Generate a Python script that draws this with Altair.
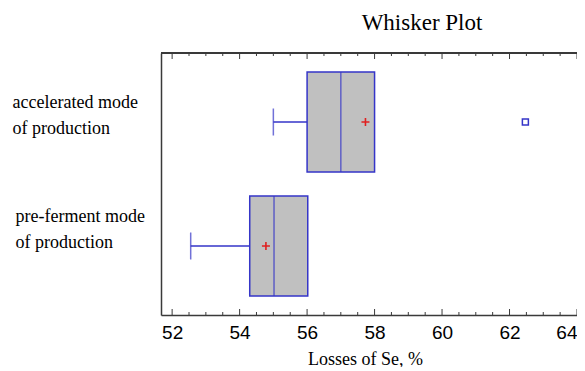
import altair as alt
import pandas as pd

groups = ["accelerated mode of production", "pre-ferment mode of production"]
whisker_low = [55.0, 52.55]
q1 = [56.0, 54.3]
median = [57.0, 55.02]
q3 = [58.0, 56.02]
mean = [57.73, 54.78]
outlier_group = ["accelerated mode of production"]
outlier_value = [62.47]
major_ticks = [52, 54, 56, 58, 60, 62, 64]
minor_ticks = [52.5, 53, 53.5, 54.5, 55, 55.5, 56.5, 57, 57.5, 58.5, 59, 59.5,
               60.5, 61, 61.5, 62.5, 63, 63.5]

W, H = 416, 262
BLUE = "#3535c8"
FRAME = "#3a3a3a"

box = pd.DataFrame({"group": groups, "low": whisker_low, "q1": q1,
                    "median": median, "q3": q3, "mean": mean})
out = pd.DataFrame({"group": outlier_group, "value": outlier_value})
maj = pd.DataFrame({"v": major_ticks})
mnr = pd.DataFrame({"v": minor_ticks})

xscale = alt.Scale(domain=[51.67, 64.0], nice=False, zero=False)
yscale = alt.Scale(domain=groups, paddingInner=0, paddingOuter=0.0565)

label_expr = ("[slice(datum.label, 0, indexof(datum.label, ' of ')), "
              "slice(datum.label, indexof(datum.label, ' of ') + 1)]")

xaxis = alt.Axis(title="Losses of Se, %", titleFont="Liberation Serif",
                 titleFontSize=18, titleFontWeight="normal", titleColor="black",
                 titleX=204, titleY=49, titleBaseline="alphabetic",
                 labelFont="Liberation Sans", labelFontSize=19, labelColor="black",
                 labelPadding=8, ticks=False, tickSize=0, grid=False,
                 labelAlign={"condition": {"test": "datum.value >= 64", "value": "right"}, "value": "center"},
                 values=major_ticks, labelFlush=False, labelOverlap=False,
                 domainColor=FRAME, domainWidth=1.5)
yaxis = alt.Axis(title=None, labelExpr=label_expr, labelFont="Liberation Serif",
                 labelFontSize=18, labelColor="black", labelAlign="left",
                 labelBaseline="middle", labelLineHeight=26, labelLimit=0,
                 labelPadding={"condition": {"test": "indexof(datum.label, 'accel') == 0", "value": 149}, "value": 146},
                 labelOffset={"condition": {"test": "indexof(datum.label, 'accel') == 0", "value": -19}, "value": -29},
                 ticks=False, tickSize=0, grid=False,
                 domainColor=FRAME, domainWidth=1.5)

base = alt.Chart(box)

whisker = base.mark_rule(color=BLUE, strokeWidth=1.5).encode(
    x=alt.X("low:Q", scale=xscale, axis=xaxis),
    x2="q1:Q",
    y=alt.Y("group:N", scale=yscale, axis=yaxis, sort=groups),
)
cap = base.mark_tick(color=BLUE, orient="vertical", size=27, thickness=1.5).encode(
    x=alt.X("low:Q", scale=xscale), y=alt.Y("group:N", scale=yscale, sort=groups))
bars = base.mark_bar(size=100, fill="#c0c0c0", stroke=BLUE, strokeWidth=1.5).encode(
    x=alt.X("q1:Q", scale=xscale), x2="q3:Q",
    y=alt.Y("group:N", scale=yscale, sort=groups))
med = base.mark_tick(color=BLUE, orient="vertical", size=100, thickness=1.5).encode(
    x=alt.X("median:Q", scale=xscale), y=alt.Y("group:N", scale=yscale, sort=groups))
mn = base.mark_point(shape="M-1,0L1,0M0,-1L0,1", filled=False, stroke="#e02020",
                     strokeWidth=1.6, size=64, opacity=1).encode(
    x=alt.X("mean:Q", scale=xscale), y=alt.Y("group:N", scale=yscale, sort=groups))
outl = alt.Chart(out).mark_point(shape="square", filled=False, color=BLUE,
                                 strokeWidth=1.5, size=36, opacity=1).encode(
    x=alt.X("value:Q", scale=xscale), y=alt.Y("group:N", scale=yscale, sort=groups))

bot_major = alt.Chart(maj).mark_rule(color=FRAME, strokeWidth=1).encode(
    x=alt.X("v:Q", scale=xscale), y=alt.value(H), y2=alt.value(H - 6))
bot_minor = alt.Chart(mnr).mark_rule(color=FRAME, strokeWidth=1).encode(
    x=alt.X("v:Q", scale=xscale), y=alt.value(H), y2=alt.value(H - 3))
top_major = alt.Chart(maj).mark_rule(color=FRAME, strokeWidth=1).encode(
    x=alt.X("v:Q", scale=xscale), y=alt.value(0), y2=alt.value(6))
top_minor = alt.Chart(mnr).mark_rule(color=FRAME, strokeWidth=1).encode(
    x=alt.X("v:Q", scale=xscale), y=alt.value(0), y2=alt.value(3))
top_line = alt.Chart(maj).mark_rule(color=FRAME, strokeWidth=1.5).encode(
    x=alt.value(0), x2=alt.value(W), y=alt.value(0))

chart = alt.layer(whisker, cap, bars, med, mn, outl,
                  bot_major, bot_minor, top_major, top_minor, top_line).properties(
    width=W, height=H,
    autosize="none",
    padding={"left": 153, "top": 45, "right": 0, "bottom": 52},
    title=alt.TitleParams("Whisker Plot", font="Liberation Serif", fontSize=23,
                          fontWeight="normal", color="black", anchor="middle",
                          dx=53, baseline="alphabetic", offset=-1),
).configure_view(stroke=None).configure(background="white")

chart.save("out.html", embed_options={"renderer": "svg", "actions": False})
